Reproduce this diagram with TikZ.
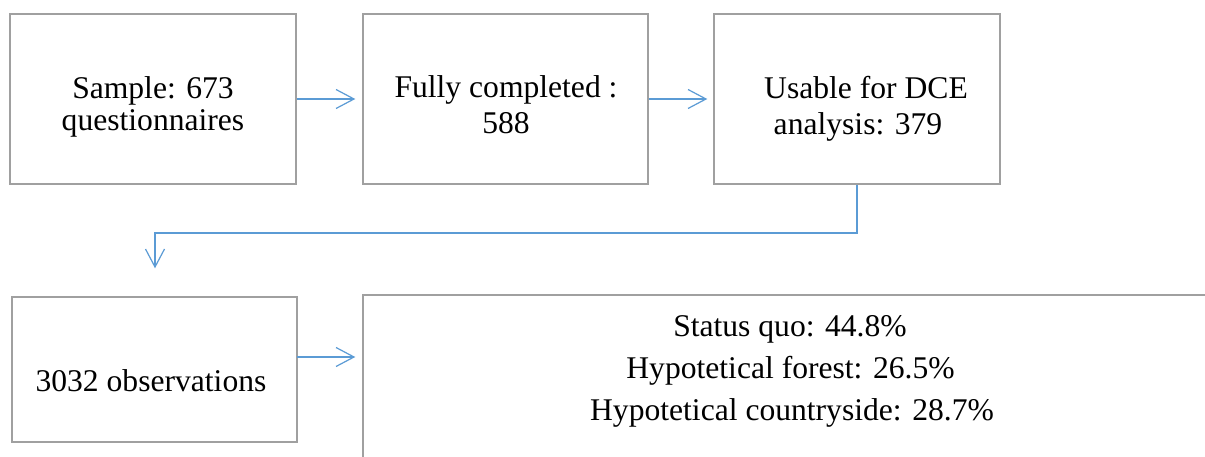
\documentclass[tikz,border=0pt]{standalone}
\usepackage{fontspec}
\setmainfont{Liberation Serif}
\usetikzlibrary{arrows.meta}
\definecolor{boxgray}{HTML}{A0A0A0}
\definecolor{arrblue}{HTML}{5B9BD5}
\begin{document}
\begin{tikzpicture}[x=1pt,y=-1pt,
  box/.style={draw=boxgray,line width=1.4pt,rectangle,inner sep=0pt},
  txt/.style={anchor=base,inner sep=0pt,font=\fontsize{31.6pt}{38pt}\selectfont},
  arr/.style={draw=arrblue,line width=1.2pt,-{Straight Barb[length=18pt,width=19pt,line width=1.2pt]}}]
\path[use as bounding box,clip] (0,0) rectangle (1205,457);
\fill[white] (0,0) rectangle (1205,457);
% boxes
\node[box,minimum width=286pt,minimum height=170pt] (b1) at (153,99) {};
\node[box,minimum width=285pt,minimum height=170pt] (b2) at (505.5,99) {};
\node[box,minimum width=286pt,minimum height=170pt] (b3) at (857,99) {};
\node[box,minimum width=285pt,minimum height=145pt] (b4) at (154.5,369.5) {};
\node[box,minimum width=858pt,minimum height=190pt] (b5) at (792,390) {};
% texts
\node[txt] (t1a) at (153,99) {Sample: 673};
\node[txt] (t1b) at (153,131) {questionnaires};
\node[txt] (t2a) at (506,98) {Fully completed :};
\node[txt] (t2b) at (506,134) {588};
\node[txt] (t3a) at (866,99) {Usable for DCE};
\node[txt] (t3b) at (858,135) {analysis: 379};
\node[txt] (t4) at (151,391) {3032 observations};
\node[txt] (t5a) at (790,336) {Status quo: 44.8\%};
\node[txt] (t5b) at (790.5,378) {Hypotetical forest: 26.5\%};
\node[txt] (t5c) at (792,420) {Hypotetical countryside: 28.7\%};
% connectors
\draw[arr,shorten >=7pt] (b1.east) -- (b2.west);
\draw[arr,shorten >=6pt] (b2.east) -- (b3.west);
\coordinate (c1) at (857,233);
\coordinate (c2) at (155,233);
\draw[arr,shorten >=28pt] (b3.south) -- (c1) -- (c2) -- (c2 |- b4.north);
\coordinate (a4) at (297,357);
\draw[arr,shorten >=7pt] (a4) -- (a4 -| b5.west);
\end{tikzpicture}
\end{document}
